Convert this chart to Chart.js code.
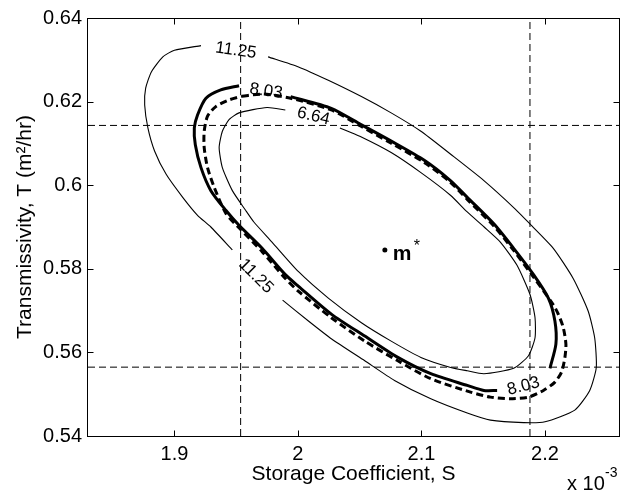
<!DOCTYPE html>
<html>
<head>
<meta charset="utf-8">
<script src="https://cdn.jsdelivr.net/npm/chart.js@4.4.0/dist/chart.umd.min.js"></script>
<style>
  body { margin: 0; background: #fff; }
  #chart { display: block; }
</style>
</head>
<body>
<canvas id="chart" width="623" height="496"></canvas>
<script>
// Storage coefficient S is in units of 10^-3, transmissivity T in m^2/hr.
const sMin = 1.83, sMax = 2.26;
const tMin = 0.54, tMax = 0.64;
const sTicks = [1.9, 2.0, 2.1, 2.2];
const tTicks = [0.54, 0.56, 0.58, 0.60, 0.62, 0.64];

// Dashed confidence bounds.
const boundS = [1.9536, 2.1879];
const boundT = [0.55647, 0.6143];

// Best estimate m*.
const bestS = [2.0704];
const bestT = [0.5845];

// Contour 11.25 (thin), two pieces split by its labels.
const c1125aS = [1.9758, 2.0005, 2.0246, 2.0514, 2.0755, 2.0996, 2.1237, 2.1506, 2.1760, 2.1880, 2.2068, 2.2229, 2.2350, 2.2403, 2.2416, 2.2363, 2.2242, 2.2001, 2.1827, 2.1559, 2.1371, 2.1076, 2.0782, 2.0541, 2.0273, 2.0085, 1.9876];
const c1125aT = [0.6307, 0.6283, 0.6251, 0.6212, 0.6173, 0.6129, 0.6074, 0.6011, 0.5943, 0.5907, 0.5849, 0.5777, 0.5699, 0.5635, 0.5564, 0.5509, 0.5462, 0.5434, 0.5432, 0.5438, 0.5455, 0.5489, 0.5533, 0.5580, 0.5632, 0.5675, 0.5725];
const c1125bS = [1.9469, 1.9295, 1.9187, 1.9067, 1.8933, 1.8839, 1.8785, 1.8759, 1.8767, 1.8813, 1.8906, 1.9000, 1.9215];
const c1125bT = [0.5845, 0.5900, 0.5928, 0.5971, 0.6026, 0.6082, 0.6137, 0.6192, 0.6232, 0.6271, 0.6307, 0.6323, 0.6334];

// Contour 6.64 (thin).
const c664S = [2.0340, 2.0501, 2.0755, 2.0996, 2.1235, 2.1371, 2.1508, 2.1639, 2.1773, 2.1880, 2.1920, 2.1920, 2.1867, 2.1747, 2.1506, 2.1371, 2.1237, 2.0996, 2.0755, 2.0514, 2.0246, 2.0005, 1.9790, 1.9643, 1.9576, 1.9469, 1.9388, 1.9362, 1.9388, 1.9442, 1.9523, 1.9750, 1.9898];
const c664T = [0.6137, 0.6117, 0.6078, 0.6030, 0.5976, 0.5936, 0.5900, 0.5864, 0.5809, 0.5738, 0.5683, 0.5635, 0.5592, 0.5562, 0.5549, 0.5556, 0.5564, 0.5588, 0.5627, 0.5671, 0.5730, 0.5793, 0.5864, 0.5912, 0.5940, 0.5987, 0.6042, 0.6090, 0.6129, 0.6157, 0.6173, 0.6186, 0.6180];

// Contour 8.03 (thick solid), two pieces.
const c803aS = [1.9941, 2.0270, 2.0511, 2.0752, 2.1026, 2.1235, 2.1371, 2.1588, 2.1747, 2.1908, 2.2028, 2.2081, 2.2089, 2.2041];
const c803aT = [0.6212, 0.6184, 0.6145, 0.6106, 0.6059, 0.6011, 0.5971, 0.5907, 0.5849, 0.5786, 0.5730, 0.5675, 0.5620, 0.5562];
const c803bS = [1.9523, 1.9375, 1.9255, 1.9187, 1.9161, 1.9169, 1.9215, 1.9295, 1.9416, 1.9523, 1.9710, 1.9898, 2.0005, 2.0273, 2.0541, 2.0809, 2.1076, 2.1371, 2.1506, 2.1613];
const c803bT = [0.6238, 0.6228, 0.6208, 0.6168, 0.6137, 0.6097, 0.6042, 0.5987, 0.5940, 0.5904, 0.5849, 0.5786, 0.5758, 0.5691, 0.5639, 0.5588, 0.5549, 0.5521, 0.5509, 0.5509];

// Approximate region (thick dashed), closed.
const approxS = [1.9547, 1.9723, 1.9941, 2.0270, 2.0511, 2.0752, 2.1026, 2.1235, 2.1371, 2.1588, 2.1747, 2.1908, 2.2068, 2.2109, 2.2149, 2.2170, 2.2162, 2.2135, 2.2081, 2.1988, 2.1867, 2.1719, 2.1559, 2.1398, 2.1076, 2.0809, 2.0541, 2.0270, 2.0005, 1.9898, 1.9710, 1.9523, 1.9416, 1.9322, 1.9268, 1.9241, 1.9241, 1.9268, 1.9335, 1.9442, 1.9547];
const approxT = [0.6213, 0.6218, 0.6208, 0.6180, 0.6141, 0.6101, 0.6054, 0.6007, 0.5966, 0.5902, 0.5844, 0.5780, 0.5714, 0.5691, 0.5659, 0.5620, 0.5588, 0.5553, 0.5529, 0.5509, 0.5493, 0.5489, 0.5493, 0.5505, 0.5537, 0.5580, 0.5627, 0.5683, 0.5746, 0.5777, 0.5841, 0.5898, 0.5933, 0.5995, 0.6042, 0.6090, 0.6129, 0.6165, 0.6188, 0.6204, 0.6213];

// Contour labels: text, position (S, T), angle in degrees.
const labelText = ['11.25', '11.25', '8.03', '8.03', '6.64'];
const labelS = [1.9498, 1.9659, 1.9742, 2.1827, 2.0125];
const labelT = [0.6322, 0.5782, 0.6225, 0.5519, 0.6165];
const labelAngle = [8, 45, 8, -15, 13];

const FONT = '"Liberation Sans", Arial, Helvetica, sans-serif';
Chart.defaults.font.family = FONT;

// Pair up S and T arrays into points.
function pts(s, t) {
	return s.map((v, i) => ({ x: v, y: t[i] }));
}

function curve(s, t, width, dash, tension) {
	return {
		data: pts(s, t),
		showLine: true,
		borderColor: '#000',
		borderWidth: width,
		borderDash: dash,
		pointRadius: 0,
		pointHoverRadius: 0,
		tension: tension,
		fill: false
	};
}

const datasets = [
	curve(c803aS, c803aT, 3, [], 0.25),
	curve(c803bS, c803bT, 3, [], 0.25),
	curve(approxS, approxT, 3, [7, 4], 0.25),
	curve(c1125aS, c1125aT, 1.1, [], 0.2),
	curve(c1125bS, c1125bT, 1.1, [], 0.2),
	curve(c664S, c664T, 1.1, [], 0.2),
	curve([boundS[0], boundS[0]], [tMin, tMax], 1, [7, 4], 0),
	curve([boundS[1], boundS[1]], [tMin, tMax], 1, [7, 4], 0),
	curve([sMin, sMax], [boundT[0], boundT[0]], 1, [7, 4], 0),
	curve([sMin, sMax], [boundT[1], boundT[1]], 1, [7, 4], 0),
	{
		data: pts(bestS, bestT),
		showLine: false,
		pointRadius: 2.5,
		pointBackgroundColor: '#000',
		pointBorderColor: '#000',
		pointBorderWidth: 0
	}
];

// Box, inward ticks, contour labels and annotations.
const extras = {
	id: 'extras',
	afterDraw(chart) {
		const { ctx, chartArea: a, scales: { x, y } } = chart;
		const L = a.left - 0.5, R = a.right + 0.5, T = a.top + 0.5, B = a.bottom + 0.5;
		ctx.save();
		ctx.strokeStyle = '#000';
		ctx.lineWidth = 1;
		ctx.setLineDash([]);
		ctx.strokeRect(L, T, R - L, B - T);
		ctx.beginPath();
		for (const v of sTicks) {
			const px = Math.round(x.getPixelForValue(v)) + 0.5;
			ctx.moveTo(px, B); ctx.lineTo(px, B - 6);
			ctx.moveTo(px, T); ctx.lineTo(px, T + 6);
		}
		for (const v of tTicks) {
			const py = Math.round(y.getPixelForValue(v)) + 0.5;
			ctx.moveTo(L, py); ctx.lineTo(L + 6, py);
			ctx.moveTo(R, py); ctx.lineTo(R - 6, py);
		}
		ctx.stroke();

		// Contour labels.
		ctx.fillStyle = '#000';
		ctx.font = '17px ' + FONT;
		ctx.textAlign = 'center';
		ctx.textBaseline = 'middle';
		labelText.forEach(function (txt, i) {
			ctx.save();
			ctx.translate(x.getPixelForValue(labelS[i]), y.getPixelForValue(labelT[i]));
			ctx.rotate(labelAngle[i] * Math.PI / 180);
			ctx.fillText(txt, 0, 0);
			ctx.restore();
		});

		// m* next to the dot.
		const mx = x.getPixelForValue(bestS[0]);
		const my = y.getPixelForValue(bestT[0]);
		ctx.textAlign = 'left';
		ctx.textBaseline = 'alphabetic';
		ctx.font = 'bold 21px ' + FONT;
		ctx.fillText('m', mx + 8, my + 10);
		ctx.font = '16px ' + FONT;
		ctx.fillText('*', mx + 29, my + 1);

		// Exponent note under the right end of the x axis.
		ctx.font = '20px ' + FONT;
		ctx.fillText('x 10', 567, 490);
		ctx.font = '14px ' + FONT;
		ctx.fillText('-3', 605, 477);
		ctx.restore();
	}
};

new Chart(document.getElementById('chart'), {
	type: 'scatter',
	data: { datasets: datasets },
	options: {
		responsive: false,
		animation: false,
		events: [],
		layout: { padding: { top: 14, right: 1, left: 0, bottom: 0 } },
		plugins: { legend: { display: false }, tooltip: { enabled: false } },
		scales: {
			x: {
				type: 'linear',
				min: sMin,
				max: sMax,
				afterBuildTicks: function (s) { s.ticks = sTicks.map(v => ({ value: v })); },
				afterFit: function (s) { s.height = 60; },
				grid: { display: false, drawTicks: false },
				border: { display: false },
				ticks: {
					color: '#000',
					padding: 6,
					font: { size: 20 },
					maxRotation: 0,
					autoSkip: false,
					callback: v => String(+v.toFixed(1))
				},
				title: {
					display: true,
					text: 'Storage Coefficient, S',
					color: '#000',
					font: { size: 21 },
					padding: { top: 0, bottom: 9 }
				}
			},
			y: {
				type: 'linear',
				min: tMin,
				max: tMax,
				afterBuildTicks: function (s) { s.ticks = tTicks.map(v => ({ value: v })); },
				afterFit: function (s) { s.width = 88; },
				grid: { display: false, drawTicks: false },
				border: { display: false },
				ticks: {
					color: '#000',
					padding: 6,
					font: { size: 20 },
					autoSkip: false,
					callback: v => String(+v.toFixed(2))
				},
				title: {
					display: true,
					text: 'Transmissivity, T (m²/hr)',
					color: '#000',
					font: { size: 21 },
					padding: { top: 13, bottom: 0 }
				}
			}
		}
	},
	plugins: [extras]
});
</script>
</body>
</html>
